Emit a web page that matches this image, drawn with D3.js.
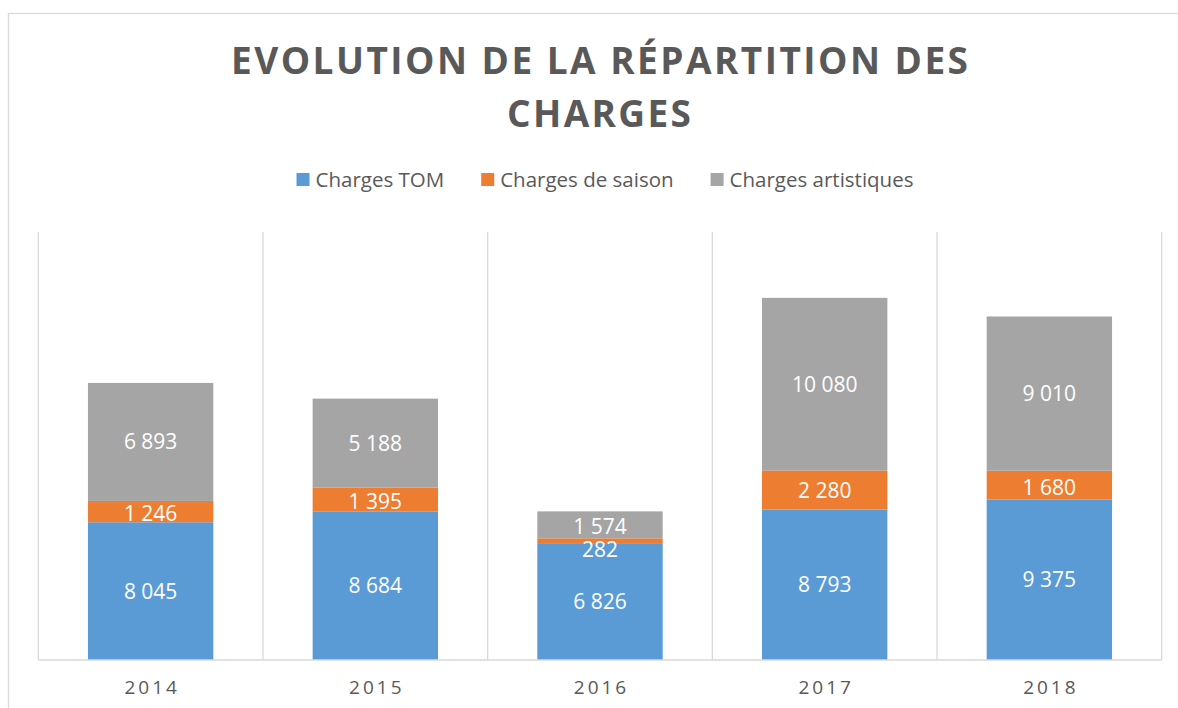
<!DOCTYPE html>
<html>
<head>
<meta charset="utf-8">
<script src="https://cdn.jsdelivr.net/npm/d3@7/dist/d3.min.js"></script>
<style>
  html, body { margin: 0; padding: 0; background: #fff; }
  svg { display: block; }
  text { font-family: "Open Sans", "Liberation Sans", sans-serif; }
</style>
</head>
<body>
<svg id="chart" width="1178" height="708"></svg>
<script>
const years = ["2014", "2015", "2016", "2017", "2018"];
const chargesTOM = [8045, 8684, 6826, 8793, 9375];
const chargesSaison = [1246, 1395, 282, 2280, 1680];
const chargesArtistiques = [6893, 5188, 1574, 10080, 9010];
const seriesNames = ["Charges TOM", "Charges de saison", "Charges artistiques"];
const seriesColors = ["#5B9BD5", "#ED7D31", "#A5A5A5"];
const titleLines = ["EVOLUTION DE LA RÉPARTITION DES", "CHARGES"];
const yMax = 25000;

const svg = d3.select("#chart");
const plot = { left: 38.3, right: 1161.7, top: 232, bottom: 660 };

// chart border
svg.append("rect")
  .attr("x", 8.5).attr("y", 13.5)
  .attr("width", 1200).attr("height", 720)
  .attr("fill", "#fff").attr("stroke", "#D9D9D9").attr("stroke-width", 1.3);

// title
const titleG = svg.append("g");
titleG.append("text")
  .attr("x", 599.5).attr("y", 74)
  .attr("text-anchor", "middle")
  .attr("font-size", 37).attr("font-weight", 700)
  .attr("fill", "#595959")
  .attr("textLength", 737).attr("lengthAdjust", "spacing")
  .text(titleLines[0]);
titleG.append("text")
  .attr("x", 599).attr("y", 126.5)
  .attr("text-anchor", "middle")
  .attr("font-size", 37).attr("font-weight", 700)
  .attr("fill", "#595959")
  .attr("textLength", 184).attr("lengthAdjust", "spacing")
  .text(titleLines[1]);

// scales
const x = d3.scaleBand().domain(years).range([plot.left, plot.right]).padding(0);
const y = d3.scaleLinear().domain([0, yMax]).range([plot.bottom, plot.top]);
const barW = x.bandwidth() * 0.558;

// vertical gridlines at category boundaries
const bounds = years.map(d => x(d)).concat([plot.right]);
svg.append("g").selectAll("line").data(bounds).join("line")
  .attr("x1", d => d).attr("x2", d => d)
  .attr("y1", plot.top).attr("y2", plot.bottom)
  .attr("stroke", "#D9D9D9").attr("stroke-width", 1.3);

// stacked data
const rows = years.map((yr, i) => ({
  year: yr, tom: chargesTOM[i], saison: chargesSaison[i], art: chargesArtistiques[i]
}));
const keys = ["tom", "saison", "art"];
const stack = d3.stack().keys(keys)(rows);

const layers = svg.append("g").selectAll("g").data(stack).join("g")
  .attr("fill", (d, i) => seriesColors[i]);
layers.selectAll("rect").data(d => d).join("rect")
  .attr("x", d => x(d.data.year) + (x.bandwidth() - barW) / 2)
  .attr("width", barW)
  .attr("y", d => y(d[1]))
  .attr("height", d => y(d[0]) - y(d[1]));

// baseline axis line
svg.append("line")
  .attr("x1", plot.left).attr("x2", plot.right)
  .attr("y1", plot.bottom).attr("y2", plot.bottom)
  .attr("stroke", "#D9D9D9").attr("stroke-width", 1.5);

// data labels
const fmt = v => d3.format(",")(v).replace(/,/g, " ");
const labelG = svg.append("g");
stack.forEach((layer, li) => {
  layer.forEach(d => {
    const h = y(d[0]) - y(d[1]);
    const cy = (y(d[0]) + y(d[1])) / 2;
    let shift = 0;
    if (h < 12) shift = 9;          // tiny segment: label pushed below
    else if (h < 30) shift = 2;
    labelG.append("text")
      .attr("x", x(d.data.year) + x.bandwidth() / 2)
      .attr("y", cy + shift)
      .attr("dy", "0.36em")
      .attr("text-anchor", "middle")
      .attr("font-size", 21)
      .attr("fill", "#fff")
      .text(fmt(d[1] - d[0]));
  });
});

// category axis labels
const xAxis = d3.axisBottom(x).tickSize(0).tickPadding(0);
const ax = svg.append("g").attr("transform", `translate(0,${plot.bottom})`).call(xAxis);
ax.select(".domain").remove();
ax.selectAll("text")
  .attr("y", 34).attr("dy", 0)
  .attr("font-size", 19)
  .attr("letter-spacing", "3px")
  .attr("fill", "#595959")
  .attr("font-family", "'Open Sans', sans-serif")
  .attr("dx", "1.5px");

// legend
const legend = svg.append("g");
const items = legend.selectAll("g").data(seriesNames).join("g");
items.append("rect")
  .attr("width", 13).attr("height", 13)
  .attr("y", 173)
  .attr("fill", (d, i) => seriesColors[i]);
items.append("text")
  .attr("x", 19).attr("y", 187.3)
  .attr("font-size", 20.5)
  .attr("fill", "#595959")
  .text(d => d);
const widths = [];
items.each(function() { widths.push(19 + d3.select(this).select("text").node().getComputedTextLength()); });
const gap = 37;
const total = d3.sum(widths) + gap * (widths.length - 1);
let cx = 605 - total / 2;
items.each(function(d, i) {
  d3.select(this).attr("transform", `translate(${cx},0)`);
  cx += widths[i] + gap;
});
</script>
</body>
</html>
